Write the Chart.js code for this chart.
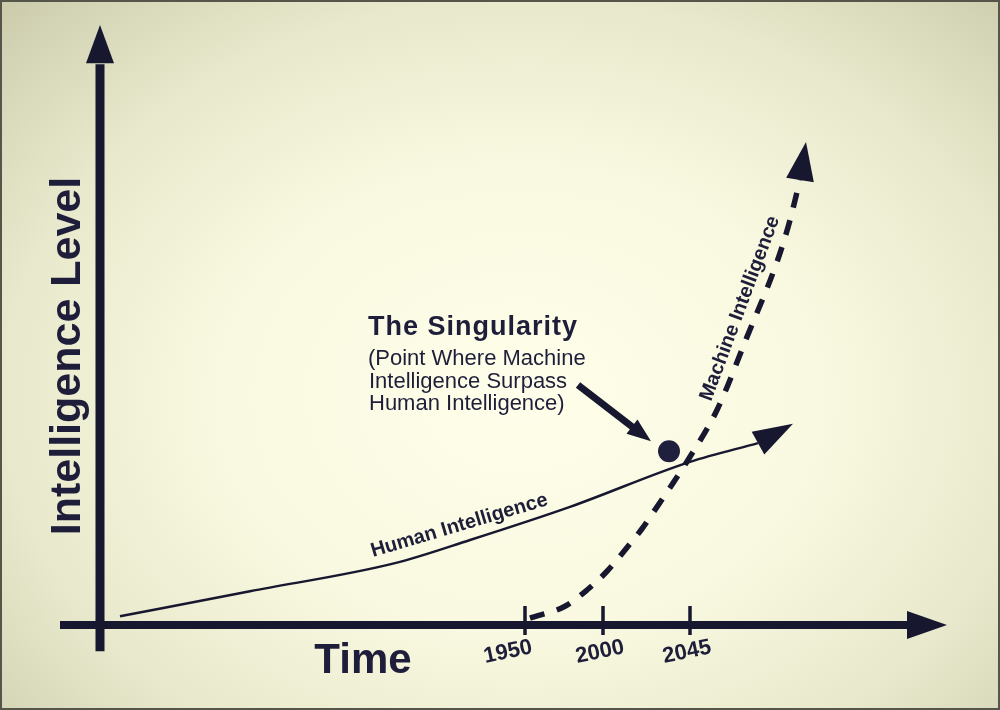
<!DOCTYPE html>
<html>
<head>
<meta charset="utf-8">
<title>The Singularity</title>
<script src="https://cdn.jsdelivr.net/npm/chart.js@4"></script>
<style>
  html, body { margin: 0; padding: 0; }
  body {
    width: 1000px; height: 710px; overflow: hidden;
    background: radial-gradient(ellipse 72% 78% at 52% 56%, #fefeea 0%, #f9f9e1 42%, #e8e8cc 72%, #cdcdae 100%);
  }
  canvas { display: block; }
</style>
</head>
<body>
<canvas id="chart" width="1000" height="710"></canvas>
<script>
// values are in chart units: x = time position, y = intelligence level
const humanX = [2, 15, 29.5, 37, 47, 59, 65.8];
const humanY = [1.4, 5.4, 9.9, 13.6, 18.9, 26.1, 29.1];
const humanTip = [69.3, 32.2];

const machineX = [43, 46.5, 48.7, 50.7, 52.5, 54.2, 55.7, 57.3, 58.8, 61.7, 64.7, 67.7, 68.9, 70];
const machineY = [1.1, 3.0, 5.6, 8.6, 12, 15.4, 18.9, 22.7, 26.4, 34.4, 46.1, 58.1, 64.2, 71.2];
const machineTip = [70.6, 77.3];

const singularityX = [56.9];
const singularityY = [27.8];

const tickValues = [42.5, 50.3, 59];
const tickLabels = ["1950", "2000", "2045"];

// axis extents and callout arrow ends, same units
const xAxisRange = [-4, 80.7, 84.7];
const yAxisRange = [-4.2, 89.9, 96];
const calloutFrom = [47.8, 38.4];
const calloutTo = [55.1, 29.4];

const ink = "#17172f";
const textInk = "#1e1e3a";
const font = "'Liberation Sans', Arial, Helvetica, sans-serif";

function toPoints(xs, ys) {
  return xs.map((v, i) => ({ x: v, y: ys[i] }));
}

function arrowHead(ctx, bx, by, tx, ty, hw) {
  const a = Math.atan2(ty - by, tx - bx);
  const nx = -Math.sin(a) * hw, ny = Math.cos(a) * hw;
  ctx.beginPath();
  ctx.moveTo(tx, ty);
  ctx.lineTo(bx + nx, by + ny);
  ctx.lineTo(bx - nx, by - ny);
  ctx.closePath();
  ctx.fill();
}

function line(ctx, x1, y1, x2, y2) {
  ctx.beginPath();
  ctx.moveTo(x1, y1);
  ctx.lineTo(x2, y2);
  ctx.stroke();
}

// axes, ticks and all the drawn text
const sketch = {
  id: "sketch",
  beforeDatasetsDraw(chart) {
    const { ctx, scales: { x, y } } = chart;
    const px = (v) => x.getPixelForValue(v);
    const py = (v) => y.getPixelForValue(v);
    ctx.save();
    ctx.strokeStyle = ink;
    ctx.fillStyle = ink;
    ctx.lineCap = "butt";

    // y axis
    ctx.lineWidth = 9;
    line(ctx, px(0), py(yAxisRange[0]), px(0), py(yAxisRange[1]) + 1);
    arrowHead(ctx, px(0), py(yAxisRange[1]), px(0), py(yAxisRange[2]), 14);

    // x axis
    ctx.lineWidth = 8;
    line(ctx, px(xAxisRange[0]), py(0), px(xAxisRange[1]) + 1, py(0));
    arrowHead(ctx, px(xAxisRange[1]), py(0), px(xAxisRange[2]), py(0), 14);

    // ticks
    ctx.lineWidth = 3.5;
    const shift = [-17, -3, -3];
    tickValues.forEach((t, i) => {
      line(ctx, px(t), py(0) - 19, px(t), py(0) + 10);
      ctx.save();
      ctx.translate(px(t) + shift[i], py(0) + 27);
      ctx.rotate(-12 * Math.PI / 180);
      ctx.font = "bold 22px " + font;
      ctx.textAlign = "center";
      ctx.textBaseline = "middle";
      ctx.fillStyle = textInk;
      ctx.fillText(tickLabels[i], 0, 0);
      ctx.restore();
    });

    // axis titles
    ctx.fillStyle = textInk;
    ctx.font = "bold 42px " + font;
    ctx.textAlign = "center";
    ctx.textBaseline = "alphabetic";
    ctx.fillText("Time", 363, 673);

    ctx.save();
    ctx.translate(80, 356);
    ctx.rotate(-Math.PI / 2);
    ctx.font = "bold 43px " + font;
    ctx.fillText("Intelligence Level", 0, 0);
    ctx.restore();
    ctx.restore();
  },
  afterDatasetsDraw(chart) {
    const { ctx, scales: { x, y } } = chart;
    const px = (v) => x.getPixelForValue(v);
    const py = (v) => y.getPixelForValue(v);
    ctx.save();
    ctx.fillStyle = ink;
    ctx.strokeStyle = ink;

    // arrowheads at the end of both curves
    arrowHead(ctx, px(humanX[humanX.length - 1]), py(humanY[humanY.length - 1]),
      px(humanTip[0]), py(humanTip[1]), 13);
    arrowHead(ctx, px(machineX[machineX.length - 1]), py(machineY[machineY.length - 1]),
      px(machineTip[0]), py(machineTip[1]), 14);

    // callout arrow to the singularity point
    const fx = px(calloutFrom[0]), fy = py(calloutFrom[1]);
    const tx = px(calloutTo[0]), ty = py(calloutTo[1]);
    const a = Math.atan2(ty - fy, tx - fx);
    const bx = tx - Math.cos(a) * 24, by = ty - Math.sin(a) * 24;
    ctx.lineWidth = 7;
    line(ctx, fx, fy, bx + Math.cos(a), by + Math.sin(a));
    arrowHead(ctx, bx, by, tx, ty, 9);

    // callout text
    ctx.fillStyle = textInk;
    ctx.textAlign = "left";
    ctx.textBaseline = "alphabetic";
    ctx.font = "bold 27px " + font;
    ctx.letterSpacing = "1px";
    ctx.fillText("The Singularity", 368, 335);
    ctx.letterSpacing = "0px";
    ctx.font = "22px " + font;
    ctx.fillText("(Point Where Machine", 368, 365);
    ctx.fillText("Intelligence Surpass", 369, 388);
    ctx.fillText("Human Intelligence)", 369, 410);

    // curve labels
    ctx.font = "bold 20px " + font;
    ctx.save();
    ctx.translate(373, 557);
    ctx.rotate(-16.5 * Math.PI / 180);
    ctx.fillText("Human Intelligence", 0, 0);
    ctx.restore();

    ctx.save();
    ctx.translate(711, 402);
    ctx.rotate(-69.5 * Math.PI / 180);
    ctx.fillText("Machine Intelligence", 0, 0);
    ctx.restore();

    // photo frame
    ctx.lineWidth = 2;
    ctx.strokeStyle = "#55554a";
    ctx.strokeRect(1, 1, chart.width - 2, chart.height - 2);
    ctx.restore();
  }
};

new Chart(document.getElementById("chart"), {
  type: "scatter",
  data: {
    datasets: [
      {
        label: "Human Intelligence",
        data: toPoints(humanX, humanY),
        showLine: true,
        borderColor: ink,
        borderWidth: 2.5,
        pointRadius: 0,
        cubicInterpolationMode: "monotone",
      },
      {
        label: "Machine Intelligence",
        data: toPoints(machineX, machineY),
        showLine: true,
        borderColor: ink,
        borderWidth: 5.5,
        borderDash: [15, 13],
        borderCapStyle: "butt",
        pointRadius: 0,
        cubicInterpolationMode: "monotone",
      },
      {
        label: "The Singularity",
        data: toPoints(singularityX, singularityY),
        pointRadius: 11,
        pointBackgroundColor: "#1f1f3e",
        pointBorderWidth: 0,
      },
    ],
  },
  options: {
    responsive: false,
    animation: false,
    layout: { padding: 0, autoPadding: false },
    plugins: {
      legend: { display: false },
      tooltip: { enabled: false },
    },
    scales: {
      x: { type: "linear", min: -10, max: 90, display: false },
      y: { type: "linear", min: -13.6, max: 100, display: false },
    },
  },
  plugins: [sketch],
});
</script>
</body>
</html>
